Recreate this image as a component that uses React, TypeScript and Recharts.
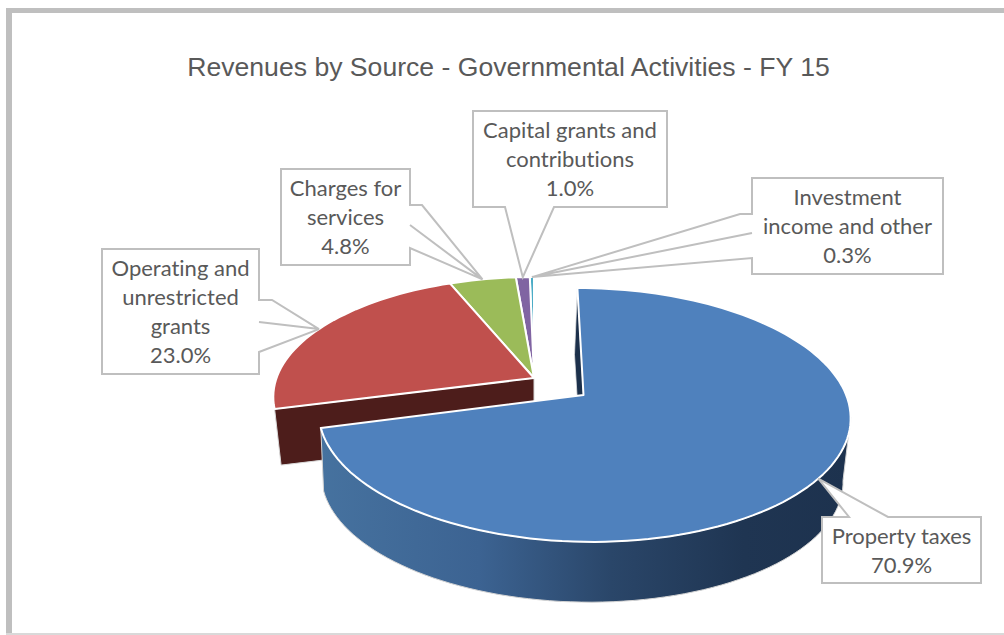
import { PieChart, Pie } from "recharts";

const categories = [
  "Property taxes",
  "Operating and unrestricted grants",
  "Charges for services",
  "Capital grants and contributions",
  "Investment income and other",
];
const shares = [70.9, 23.0, 4.8, 1.0, 0.3];
const colors = ["#4f81bd", "#c0504d", "#9bbb59", "#8064a2", "#4bacc6"];
const labelLines = [
  ["Property taxes", "70.9%"],
  ["Operating and", "unrestricted", "grants", "23.0%"],
  ["Charges for", "services", "4.8%"],
  ["Capital grants and", "contributions", "1.0%"],
  ["Investment", "income and other", "0.3%"],
];

// reversed and counter clockwise, so the big front slice is painted last
const pieData = categories
  .map((name, i) => ({ name, value: shares[i], fill: colors[i], lines: labelLines[i] }))
  .reverse();

const TILT = 0.157; // perspective strength
const W = 1004;
const H = 635;

type Frame = { dx: number; dy: number; sa: number; sb: number; shear: number };
// offsets from the pie centre, scales relative to outerRadius
const BACK_TOP: Frame = { dx: 0, dy: 0, sa: 1, sb: 0.4536, shear: 0 };
const BACK_BOTTOM: Frame = { dx: 0, dy: 57, sa: 0.975, sb: 0.44, shear: 0 };
const FRONT_TOP: Frame = { dx: 49.5, dy: 17, sa: 1.02, sb: 0.4808, shear: -7 };
const FRONT_BOTTOM: Frame = { dx: 47, dy: 81, sa: 1, sb: 0.4687, shear: -7.5 };

function project(cx: number, cy: number, r: number, f: Frame, clockDeg: number) {
  const t = (clockDeg * Math.PI) / 180;
  const u = Math.sin(t);
  const v = Math.cos(t);
  const d = 1 + TILT * v;
  return {
    x: cx + f.dx + (r * f.sa * u + f.shear * v) / d,
    y: cy + f.dy - (r * f.sb * v) / d,
  };
}

function arc(cx: number, cy: number, r: number, f: Frame, from: number, to: number) {
  const pts: string[] = [];
  const n = Math.max(2, Math.ceil(Math.abs(to - from) / 2));
  for (let i = 0; i <= n; i++) {
    const p = project(cx, cy, r, f, from + ((to - from) * i) / n);
    pts.push(`${p.x.toFixed(1)} ${p.y.toFixed(1)}`);
  }
  return pts;
}

const poly = (pts: string[]) => "M" + pts.join("L") + "Z";

function Slice(props: any) {
  const { cx, cy, outerRadius: r, startAngle, endAngle, fill, payload } = props;
  const a = 90 - Math.max(startAngle, endAngle);
  const b = 90 - Math.min(startAngle, endAngle);
  const from = ((a % 360) + 360) % 360;
  const to = from + (b - a);
  const isFront = payload.name === categories[0];
  const top = isFront ? FRONT_TOP : BACK_TOP;
  const bottom = isFront ? FRONT_BOTTOM : BACK_BOTTOM;
  const apex = (f: Frame) => `${cx + f.dx} ${cy + f.dy}`;
  const face = [apex(top), ...arc(cx, cy, r, top, from, to)];

  if (isFront) {
    const wallFrom = 100;
    const wallTop = arc(cx, cy, r, top, wallFrom, to);
    const wallBottom = arc(cx, cy, r, bottom, wallFrom, to).reverse();
    const edge0Top = arc(cx, cy, r, top, 0, 0.1)[0];
    const edge0Bottom = arc(cx, cy, r, bottom, 0, 0.1)[0];
    return (
      <g>
        <defs>
          <linearGradient id="frontWall" gradientUnits="userSpaceOnUse" x1="320" y1="0" x2="850" y2="0">
            <stop offset="0" stopColor="#46729f" />
            <stop offset="0.3" stopColor="#3c6392" />
            <stop offset="0.55" stopColor="#2a4669" />
            <stop offset="0.8" stopColor="#1f3552" />
            <stop offset="1" stopColor="#1d324e" />
          </linearGradient>
        </defs>
        <path
          d={poly([edge0Top, apex(top), apex(bottom), edge0Bottom])}
          fill="#1c304b"
          stroke="#e4e4e4"
          strokeWidth={0.75}
        />
        <path d={poly([...wallTop, ...wallBottom])} fill="url(#frontWall)" stroke="#d4d4d4" strokeWidth={1} />
        <path d={poly(face)} fill={fill} stroke="#fff" strokeWidth={2} strokeLinejoin="round" />
      </g>
    );
  }

  // only the cut edge facing the viewer shows on the slices behind
  const showsCut = from > 180 && from < 270;
  const corner = arc(cx, cy, r, top, from, from + 0.1)[0];
  const cornerLow = arc(cx, cy, r, bottom, from, from + 0.1)[0];
  return (
    <g>
      {showsCut ? (
        <path
          d={poly([corner, apex(top), apex(bottom), cornerLow])}
          fill="#4d1d1b"
          stroke="#d8d8d8"
          strokeWidth={1}
        />
      ) : null}
      <path d={poly(face)} fill={fill} stroke="#fff" strokeWidth={2} strokeLinejoin="round" />
    </g>
  );
}

type Box = { x: number; y: number; w: number; h: number; side: string; knee?: number; base: number[] };
const boxes: Record<string, Box> = {
  [categories[0]]: { x: 822, y: 517, w: 159, h: 66, side: "top", base: [849, 888] },
  [categories[1]]: { x: 102, y: 249, w: 157, h: 125, side: "right", knee: 272, base: [300, 322, 352] },
  [categories[2]]: { x: 281, y: 169, w: 129, h: 96, side: "right", knee: 422, base: [205, 225, 248] },
  [categories[3]]: { x: 473, y: 111, w: 194, h: 96, side: "bottom", base: [505, 554] },
  [categories[4]]: { x: 752, y: 178, w: 191, h: 96, side: "left", knee: 740, base: [214, 233, 258] },
};

function Callout(props: any) {
  const { cx, cy, outerRadius: r, midAngle, payload } = props;
  const box = boxes[payload.name];
  const f = payload.name === categories[0] ? FRONT_TOP : BACK_TOP;
  const tip = project(cx, cy, r, f, 90 - midAngle);
  const t = `${tip.x.toFixed(1)} ${tip.y.toFixed(1)}`;
  const { x, y, w, h, base, knee, side } = box;
  const R = x + w;
  const B = y + h;
  let pts: string[] = [];
  if (side === "top") {
    pts = [`${x} ${y}`, `${base[0]} ${y}`, t, `${base[1]} ${y}`, `${R} ${y}`, `${R} ${B}`, `${x} ${B}`];
  } else if (side === "bottom") {
    pts = [`${x} ${y}`, `${R} ${y}`, `${R} ${B}`, `${base[1]} ${B}`, t, `${base[0]} ${B}`, `${x} ${B}`];
  } else if (side === "right") {
    pts = [
      `${x} ${y}`, `${R} ${y}`, `${R} ${base[0]}`, `${knee} ${base[0]}`, t,
      `${R} ${base[1]}`, t, `${R} ${base[2]}`, `${R} ${B}`, `${x} ${B}`,
    ];
  } else {
    pts = [
      `${x} ${y}`, `${R} ${y}`, `${R} ${B}`, `${x} ${B}`, `${x} ${base[2]}`, t,
      `${x} ${base[1]}`, t, `${knee} ${base[0]}`, `${x} ${base[0]}`,
    ];
  }
  const lines: string[] = payload.lines;
  const lineH = 29;
  const firstY = y + h / 2 - ((lines.length - 1) * lineH) / 2 + 8;
  return (
    <g>
      <path d={poly(pts)} fill="#fff" stroke="#bfbfbf" strokeWidth={2} strokeLinejoin="miter" />
      <text
        textAnchor="middle"
        fontFamily="Lato, 'Open Sans', sans-serif"
        fontSize={22}
        fill="#595959"
        style={{ fontVariantLigatures: "none" }}
      >
        {lines.map((l, i) => (
          <tspan key={i} x={x + w / 2} y={firstY + i * lineH}>
            {l}
          </tspan>
        ))}
      </text>
    </g>
  );
}

export default function App() {
  return (
    <div style={{ position: "absolute", left: 0, top: 0, width: W, height: H, background: "#fff", overflow: "hidden" }}>
      <div style={{ position: "absolute", left: 6, top: 8, right: 0, height: 5, background: "#bfbfbf" }} />
      <div style={{ position: "absolute", left: 6, top: 8, bottom: 0, width: 6, background: "#bfbfbf" }} />
      <div style={{ position: "absolute", left: 6, right: 0, top: 633, height: 2, background: "#d9d9d9" }} />
      <div
        style={{
          position: "absolute",
          left: 0,
          width: W,
          top: 52,
          textAlign: "center",
          paddingLeft: 13,
          boxSizing: "border-box",
          fontFamily: "'Liberation Sans', Arial, sans-serif",
          fontSize: 26.6,
          lineHeight: "30px",
          color: "#595959",
        }}
      >
        Revenues by Source - Governmental Activities - FY 15
      </div>
      <div style={{ position: "absolute", left: 0, top: 0 }}>
        <PieChart width={W} height={H} accessibilityLayer={false} margin={{ top: 0, right: 0, bottom: 0, left: 0 }}>
          <Pie
            data={pieData}
            dataKey="value"
            nameKey="name"
            cx={534}
            cy={378}
            outerRadius={257.5}
            startAngle={90}
            endAngle={450}
            shape={Slice}
            label={Callout}
            labelLine={false}
            isAnimationActive={false}
          />
        </PieChart>
      </div>
    </div>
  );
}
